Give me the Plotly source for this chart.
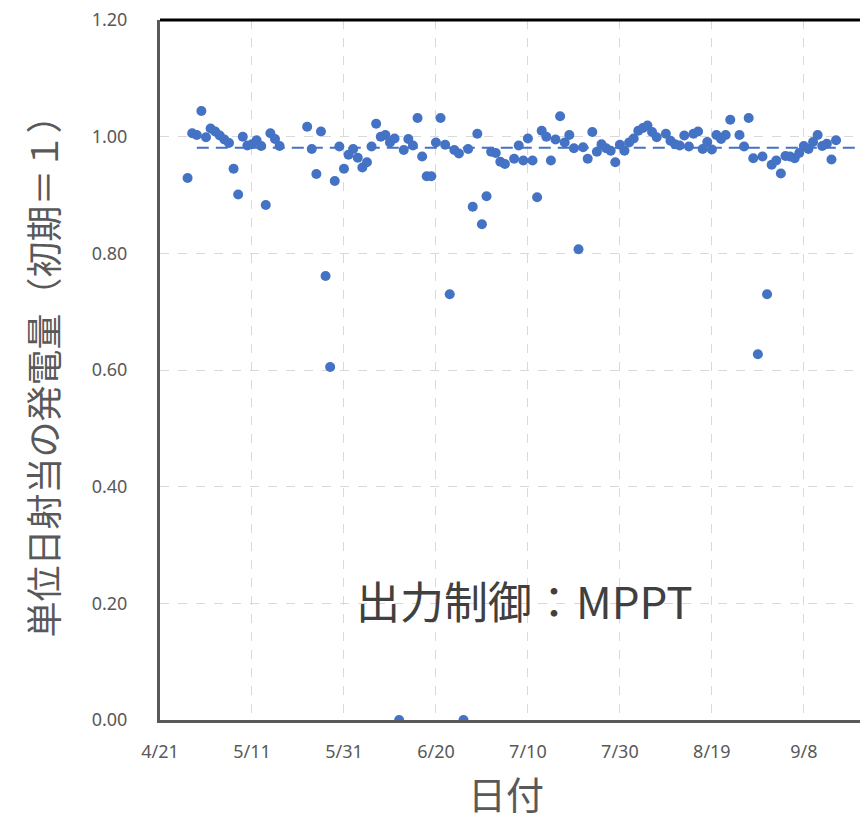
import plotly.graph_objects as go

dates = [
    "2019-04-27", "2019-04-28", "2019-04-29", "2019-04-30", "2019-05-01", "2019-05-02",
    "2019-05-03", "2019-05-04", "2019-05-05", "2019-05-06", "2019-05-07", "2019-05-08",
    "2019-05-09", "2019-05-10", "2019-05-11", "2019-05-12", "2019-05-13", "2019-05-14",
    "2019-05-15", "2019-05-16", "2019-05-17",
    "2019-05-23", "2019-05-24", "2019-05-25", "2019-05-26", "2019-05-27", "2019-05-28",
    "2019-05-29", "2019-05-30", "2019-05-31", "2019-06-01", "2019-06-02", "2019-06-03",
    "2019-06-04", "2019-06-05", "2019-06-06", "2019-06-07", "2019-06-08", "2019-06-09",
    "2019-06-10", "2019-06-11", "2019-06-12", "2019-06-13", "2019-06-14", "2019-06-15",
    "2019-06-16", "2019-06-17", "2019-06-18", "2019-06-19", "2019-06-20", "2019-06-21",
    "2019-06-22", "2019-06-23", "2019-06-24", "2019-06-25", "2019-06-26", "2019-06-27",
    "2019-06-28", "2019-06-29", "2019-06-30", "2019-07-01", "2019-07-02", "2019-07-03",
    "2019-07-04", "2019-07-05", "2019-07-07", "2019-07-08", "2019-07-09", "2019-07-10",
    "2019-07-11", "2019-07-12", "2019-07-13", "2019-07-14", "2019-07-15", "2019-07-16",
    "2019-07-17", "2019-07-18", "2019-07-19", "2019-07-20", "2019-07-21", "2019-07-22",
    "2019-07-23", "2019-07-24", "2019-07-25", "2019-07-26", "2019-07-27", "2019-07-28",
    "2019-07-29", "2019-07-30", "2019-07-31", "2019-08-01", "2019-08-02", "2019-08-03",
    "2019-08-04", "2019-08-05", "2019-08-06", "2019-08-07", "2019-08-09", "2019-08-10",
    "2019-08-11", "2019-08-12", "2019-08-13", "2019-08-14", "2019-08-15", "2019-08-16",
    "2019-08-17", "2019-08-18", "2019-08-19", "2019-08-20", "2019-08-21", "2019-08-22",
    "2019-08-23", "2019-08-25", "2019-08-26", "2019-08-27", "2019-08-28", "2019-08-29",
    "2019-08-30", "2019-08-31", "2019-09-01", "2019-09-02", "2019-09-03", "2019-09-04",
    "2019-09-05", "2019-09-06", "2019-09-07", "2019-09-08", "2019-09-09", "2019-09-10",
    "2019-09-11", "2019-09-12", "2019-09-13", "2019-09-14", "2019-09-15",
]

ratio = [
    0.929, 1.006, 1.003, 1.044, 0.999, 1.014,
    1.009, 1.002, 0.995, 0.989, 0.945, 0.901,
    1.000, 0.985, 0.987, 0.994, 0.984, 0.883,
    1.006, 0.996, 0.984,
    1.017, 0.979, 0.936, 1.009, 0.761, 0.605,
    0.924, 0.983, 0.945, 0.969, 0.979, 0.964,
    0.947, 0.956, 0.983, 1.022, 1.000, 1.003,
    0.990, 0.997, 0.000, 0.977, 0.996, 0.985,
    1.032, 0.966, 0.932, 0.932, 0.990, 1.032,
    0.986, 0.730, 0.977, 0.971, 0.000, 0.979,
    0.880, 1.005, 0.850, 0.898, 0.974, 0.972,
    0.957, 0.953, 0.962, 0.985, 0.959, 0.997,
    0.959, 0.896, 1.010, 1.000, 0.959, 0.995,
    1.035, 0.990, 1.003, 0.980, 0.807, 0.982,
    0.962, 1.008, 0.974, 0.987, 0.980, 0.976,
    0.956, 0.986, 0.976, 0.990, 0.997, 1.010,
    1.015, 1.019, 1.008, 0.999, 1.005, 0.993,
    0.987, 0.985, 1.002, 0.983, 1.005, 1.009,
    0.979, 0.991, 0.978, 1.003, 0.996, 1.003,
    1.029, 1.003, 0.983, 1.032, 0.963, 0.627,
    0.966, 0.730, 0.952, 0.959, 0.937, 0.967,
    0.966, 0.963, 0.972, 0.984, 0.979, 0.991,
    1.003, 0.984, 0.988, 0.961, 0.994,
]

avg_dates = ["2019-04-29", "2019-09-21"]
avg_values = [0.981, 0.981]

y_ticks = [0, 0.2, 0.4, 0.6, 0.8, 1.0, 1.2]
y_tick_labels = ["0.00", "0.20", "0.40", "0.60", "0.80", "1.00", "1.20"]

x_title = "日付"
y_title = "単位日射当の発電量（初期＝１）"
note = "出力制御：MPPT"

BLUE = "#4472C4"
GRAY = "#595959"
JP = "Noto Sans CJK JP"

fig = go.Figure()
fig.add_trace(go.Scatter(
    x=avg_dates, y=avg_values, mode="lines",
    line=dict(color=BLUE, width=2, dash="12px,7px"),
    showlegend=False, hoverinfo="skip",
))
fig.add_trace(go.Scatter(
    x=dates, y=ratio, mode="markers",
    marker=dict(color=BLUE, size=10, line=dict(width=0)),
    showlegend=False,
))

fig.update_layout(
    width=860, height=819,
    margin=dict(l=160, r=0, t=20, b=99),
    paper_bgcolor="white", plot_bgcolor="white",
    font=dict(family="Noto Sans", color=GRAY),
    xaxis=dict(
        type="date",
        range=["2019-04-21", "2019-09-20 05:00"],
        tick0="2019-04-21", dtick=20 * 86400000,
        tickformat="%-m/%-d",
        tickfont=dict(size=18, color=GRAY, family="Noto Sans"),
        ticklabelstandoff=13,
        showgrid=True, gridcolor="#d9d9d9", griddash="dash", gridwidth=1,
        showline=True, linecolor=GRAY, linewidth=3,
        zeroline=False, ticks="",
    ),
    yaxis=dict(
        range=[0, 1.2],
        tickvals=y_ticks, ticktext=y_tick_labels,
        tickfont=dict(size=18, color=GRAY, family="Noto Sans"),
        ticklabelstandoff=26,
        ticklabeloverflow="allow",
        showgrid=True, gridcolor="#d9d9d9", griddash="dash", gridwidth=1,
        showline=True, linecolor=GRAY, linewidth=3,
        zeroline=False, ticks="",
    ),
    shapes=[dict(type="line", xref="paper", yref="paper", x0=0, x1=1, y0=1, y1=1,
                 line=dict(color="#000000", width=3))],
    annotations=[
        dict(text=note, xref="paper", yref="paper", x=0.521, y=0.172,
             xanchor="center", yanchor="middle",
             showarrow=False, font=dict(family=JP, size=44, color="#404040")),
        dict(text=x_title, xref="paper", yref="paper", x=0.494, y=-0.103,
             xanchor="center", yanchor="middle",
             showarrow=False, font=dict(family=JP, size=38, color=GRAY)),
        dict(text=y_title, xref="paper", yref="paper", x=-0.169, y=0.503,
             xanchor="center", yanchor="middle", textangle=-90,
             showarrow=False, font=dict(family=JP, size=36, color=GRAY)),
    ],
)

fig.write_html(
    "out.html",
    config={"displayModeBar": False},
    post_script="document.body.style.margin='0';document.body.style.overflow='hidden';",
)
